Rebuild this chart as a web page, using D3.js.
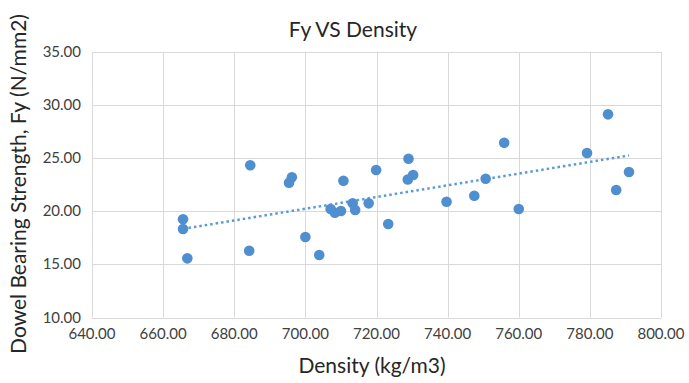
<!DOCTYPE html>
<meta charset="utf-8">
<style>
  body { margin: 0; background: #fff; }
  .grid line { stroke: #d9d9d9; stroke-width: 1px; }
  .tick-label { font-family: Lato, "Open Sans", sans-serif; font-size: 15px; fill: #404040; }
  .title, .axis-title { font-family: Lato, "Open Sans", sans-serif; fill: #262626; }
</style>
<body>
<svg id="chart" width="689" height="383"></svg>
<script src="https://d3js.org/d3.v7.min.js"></script>
<script>

// density (kg/m3)
var density = [665.6, 665.6, 666.8, 684.5, 684.2, 695.4, 696.2, 700.0, 703.9, 710.7,
               707.1, 708.3, 710.0, 713.3, 714.0, 717.8, 719.9, 729.0, 728.8, 730.3,
               723.3, 739.7, 747.5, 750.7, 755.9, 760.0, 779.2, 785.1, 787.4, 791.0];
// dowel bearing strength Fy (N/mm2)
var fy = [19.25, 18.33, 15.57, 24.33, 16.29, 22.69, 23.2, 17.58, 15.88, 22.88,
          20.22, 19.87, 20.03, 20.75, 20.12, 20.75, 23.89, 24.95, 23.0, 23.42,
          18.8, 20.9, 21.47, 23.07, 26.46, 20.22, 25.49, 29.13, 22.0, 23.7];

var xTicks = [640, 660, 680, 700, 720, 740, 760, 780, 800];
var yTicks = [10, 15, 20, 25, 30, 35];

var svg = d3.select('#chart'),
    width = +svg.attr('width'),
    height = +svg.attr('height');

var margin = {top: 52, right: 28, bottom: 65.5, left: 92};

var x = d3.scaleLinear().domain([640, 800]).range([margin.left, width - margin.right]);
var y = d3.scaleLinear().domain([10, 35]).range([height - margin.bottom, margin.top]);

// gridlines
var grid = svg.append('g').attr('class', 'grid');
grid.selectAll('.v').data(xTicks).enter().append('line')
  .attr('x1', d => Math.round(x(d)) + 0.5).attr('x2', d => Math.round(x(d)) + 0.5)
  .attr('y1', y(10)).attr('y2', y(35));
grid.selectAll('.h').data(yTicks).enter().append('line')
  .attr('x1', x(640)).attr('x2', x(800))
  .attr('y1', d => Math.round(y(d)) + 0.5).attr('y2', d => Math.round(y(d)) + 0.5);

// tick labels
svg.selectAll('.xl').data(xTicks).enter().append('text')
  .attr('class', 'tick-label')
  .attr('x', d => x(d)).attr('y', y(10) + 21)
  .attr('text-anchor', 'middle')
  .text(d => d.toFixed(2));

svg.selectAll('.yl').data(yTicks).enter().append('text')
  .attr('class', 'tick-label')
  .attr('x', x(640) - 11).attr('y', d => y(d) + 5)
  .attr('text-anchor', 'end')
  .text(d => d.toFixed(2));

// linear trendline (least squares)
var mx = d3.mean(density), my = d3.mean(fy);
var sxy = d3.sum(density, (d, i) => (d - mx) * (fy[i] - my)),
    sxx = d3.sum(density, d => (d - mx) * (d - mx));
var slope = sxy / sxx, icpt = my - slope * mx;
var x0 = d3.min(density), x1 = d3.max(density);

svg.append('line')
  .attr('x1', x(x0)).attr('y1', y(icpt + slope * x0))
  .attr('x2', x(x1)).attr('y2', y(icpt + slope * x1))
  .style('stroke', '#5b9bd5')
  .style('stroke-width', 2.5)
  .style('stroke-dasharray', '2.5,3');

// points
svg.selectAll('circle').data(density).enter().append('circle')
  .attr('cx', d => x(d))
  .attr('cy', (d, i) => y(fy[i]))
  .attr('r', 5.3)
  .style('fill', '#4f8fcf');

// titles
svg.append('text').attr('class', 'title')
  .attr('x', 353).attr('y', 37)
  .attr('text-anchor', 'middle')
  .style('font-size', '21px')
  .text('Fy VS Density');

svg.append('text').attr('class', 'axis-title')
  .attr('x', 372).attr('y', 373)
  .attr('text-anchor', 'middle')
  .style('font-size', '21px')
  .text('Density (kg/m3)');

svg.append('text').attr('class', 'axis-title')
  .attr('transform', 'translate(26,184) rotate(-90)')
  .attr('text-anchor', 'middle')
  .style('font-size', '21px')
  .text('Dowel Bearing Strength, Fy (N/mm2)');

</script>
</body>
